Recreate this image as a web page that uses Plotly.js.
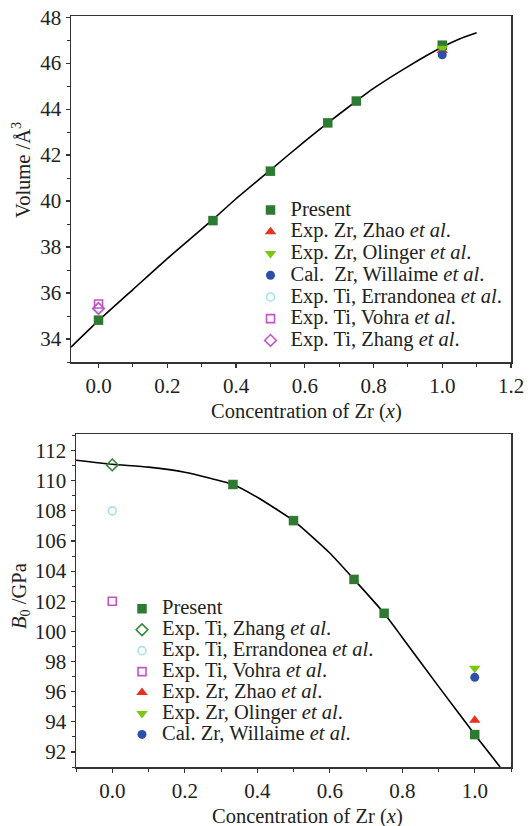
<!DOCTYPE html>
<html>
<head>
<meta charset="utf-8">
<script src="https://cdn.plot.ly/plotly-3.0.1.min.js"></script>
<style>html,body{margin:0;padding:0;background:#fff;}#chart{width:530px;height:826px;}</style>
</head>
<body>
<div id="chart"></div>
<script>
// ---------- Data: top panel (volume) ----------
var concPresent = [0, 0.333, 0.5, 0.667, 0.75, 1.0];
var volPresent = [34.82, 39.15, 41.3, 43.4, 44.35, 46.78];
var volFitX = [-0.08, 0, 0.1, 0.2, 0.333, 0.4, 0.5, 0.6, 0.667, 0.75, 0.8, 0.9, 1.0, 1.05, 1.1];
var volFitY = [33.65, 34.8, 36.15, 37.5, 39.2, 40.1, 41.35, 42.6, 43.4, 44.35, 44.9, 45.85, 46.7, 47.05, 47.32];
var volZhaoZr = [46.55];
var volOlingerZr = [46.65];
var volWillaimeZr = [46.36];
var volErrandoneaTi = [35.35];
var volVohraTi = [35.52];
var volZhangTi = [35.33];

// ---------- Data: bottom panel (bulk modulus) ----------
var concPresentB = [0.333, 0.5, 0.667, 0.75, 1.0];
var b0Present = [109.75, 107.35, 103.45, 101.2, 93.15];
var b0FitX = [-0.1, 0, 0.1, 0.2, 0.333, 0.4, 0.5, 0.6, 0.667, 0.75, 0.8, 0.9, 1.0, 1.07];
var b0FitY = [111.36, 111.09, 110.9, 110.56, 109.75, 108.9, 107.35, 105.2, 103.45, 101.2, 99.6, 96.35, 93.15, 91.0];
var b0ZhangTi = [111.05];
var b0ErrandoneaTi = [108.0];
var b0VohraTi = [102.0];
var b0ZhaoZr = [94.1];
var b0OlingerZr = [97.55];
var b0WillaimeZr = [96.95];

var xTi = [0];
var xZr = [1.0];

// ---------- Labels ----------
var namesTop = ['Present', 'Exp. Zr, Zhao <i>et al</i>.', 'Exp. Zr, Olinger <i>et al</i>.',
  'Cal.\u00a0 Zr, Willaime <i>et al</i>.', 'Exp. Ti, Errandonea <i>et al</i>.',
  'Exp. Ti, Vohra <i>et al</i>.', 'Exp. Ti, Zhang <i>et al</i>.'];
var namesBottom = ['Present', 'Exp. Ti, Zhang <i>et al</i>.', 'Exp. Ti, Errandonea <i>et al</i>.',
  'Exp. Ti, Vohra <i>et al</i>.', 'Exp. Zr, Zhao <i>et al</i>.', 'Exp. Zr, Olinger <i>et al</i>.',
  'Cal. Zr, Willaime <i>et al</i>.'];
var xTitle = 'Concentration of Zr (<i>x</i>)';
var yTitleTop = 'Volume /Å<sup>3</sup>';
var yTitleBottom = '<i>B</i><sub>0</sub> /GPa';
var topTicks = [0, 0.2, 0.4, 0.6, 0.8, 1.0, 1.2];
var bottomTicks = [0, 0.2, 0.4, 0.6, 0.8, 1.0];

// ---------- Styles ----------
var FONT = '"Liberation Serif", "DejaVu Serif", serif';
var C = {
  present: '#2f7a33', zhao: '#e8321f', olinger: '#7cc60c', willaime: '#2c4fa9',
  errandonea: '#a6e2ec', vohra: '#c253c9', zhangTop: '#c253c9', zhangBottom: '#2f8a32'
};
function lbl(t) { return '<span style="font-size:20.5px">' + t + '</span>'; }

function pts(x, y, name, color, symbol, size, xa, ya, leg, rank, open) {
  var m = {color: color, symbol: symbol, size: size};
  if (open) m.line = {color: color, width: 1.6};
  return {x: x, y: y, type: 'scatter', mode: 'markers', name: lbl(name), marker: m,
    xaxis: xa, yaxis: ya, legend: leg, legendrank: rank, cliponaxis: false};
}

var traces = [
  {x: volFitX, y: volFitY, type: 'scatter', mode: 'lines', line: {color: '#000', width: 1.6, shape: 'spline', smoothing: 0.5},
    showlegend: false, xaxis: 'x', yaxis: 'y', hoverinfo: 'skip'},
  pts(xTi, volErrandoneaTi, namesTop[4], C.errandonea, 'circle-open', 8, 'x', 'y', 'legend', 5, true),
  pts(xTi, volVohraTi, namesTop[5], C.vohra, 'square-open', 8, 'x', 'y', 'legend', 6, true),
  pts(xTi, volZhangTi, namesTop[6], C.zhangTop, 'diamond-open', 9, 'x', 'y', 'legend', 7, true),
  pts(concPresent, volPresent, namesTop[0], C.present, 'square', 9.5, 'x', 'y', 'legend', 1),
  pts(xZr, volZhaoZr, namesTop[1], C.zhao, 'triangle-up', 10, 'x', 'y', 'legend', 2),
  pts(xZr, volOlingerZr, namesTop[2], C.olinger, 'triangle-down', 10, 'x', 'y', 'legend', 3),
  pts(xZr, volWillaimeZr, namesTop[3], C.willaime, 'circle', 9, 'x', 'y', 'legend', 4),

  {x: b0FitX, y: b0FitY, type: 'scatter', mode: 'lines', line: {color: '#000', width: 1.6, shape: 'spline', smoothing: 0.5},
    showlegend: false, xaxis: 'x2', yaxis: 'y2', hoverinfo: 'skip'},
  pts(concPresentB, b0Present, namesBottom[0], C.present, 'square', 9.5, 'x2', 'y2', 'legend2', 1),
  pts(xTi, b0ZhangTi, namesBottom[1], C.zhangBottom, 'diamond-open', 9, 'x2', 'y2', 'legend2', 2, true),
  pts(xTi, b0ErrandoneaTi, namesBottom[2], C.errandonea, 'circle-open', 8, 'x2', 'y2', 'legend2', 3, true),
  pts(xTi, b0VohraTi, namesBottom[3], C.vohra, 'square-open', 8, 'x2', 'y2', 'legend2', 4, true),
  pts(xZr, b0ZhaoZr, namesBottom[4], C.zhao, 'triangle-up', 10, 'x2', 'y2', 'legend2', 5),
  pts(xZr, b0OlingerZr, namesBottom[5], C.olinger, 'triangle-down', 10, 'x2', 'y2', 'legend2', 6),
  pts(xZr, b0WillaimeZr, namesBottom[6], C.willaime, 'circle', 9, 'x2', 'y2', 'legend2', 7)
];

var W = 530, H = 826;
function axisBase() {
  return {
    showline: true, mirror: true, linecolor: '#333', linewidth: 1.5,
    ticks: 'outside', ticklen: 4, tickwidth: 1.2, tickcolor: '#333',
    showgrid: false, zeroline: false,
    tickfont: {family: FONT, size: 21, color: '#222'},
    minor: {ticks: 'outside', ticklen: 3, tickwidth: 1, tickcolor: '#333', showgrid: false}
  };
}
var xa1 = Object.assign(axisBase(), {domain: [71 / W, 511 / W], range: [-0.08, 1.2], anchor: 'y',
  tickvals: topTicks, tickformat: '.1f'});
xa1.minor.dtick = 0.1; xa1.minor.tick0 = 0;
var ya1 = Object.assign(axisBase(), {domain: [1 - 362 / H, 1 - 16 / H], range: [33, 48.05], anchor: 'x', dtick: 2, tick0: 0});
ya1.minor.dtick = 1; ya1.minor.tick0 = 0;
var xa2 = Object.assign(axisBase(), {domain: [76 / W, 511 / W], range: [-0.1, 1.1], anchor: 'y2',
  tickvals: bottomTicks, tickformat: '.1f'});
xa2.minor.dtick = 0.1; xa2.minor.tick0 = 0;
var ya2 = Object.assign(axisBase(), {domain: [1 - 767 / H, 1 - 434 / H], range: [91, 113.1], anchor: 'x2', dtick: 2, tick0: 0});
ya2.minor.dtick = 1; ya2.minor.tick0 = 0;

function titleAnn(text, px, py, angle) {
  return {text: text, xref: 'paper', yref: 'paper', x: px / W, y: 1 - py / H,
    xanchor: 'center', yanchor: 'middle', showarrow: false, textangle: angle || 0,
    font: {family: FONT, size: 20.5, color: '#222'}};
}

var layout = {
  width: W, height: H,
  margin: {l: 0, r: 0, t: 0, b: 0},
  paper_bgcolor: '#fff', plot_bgcolor: '#fff',
  font: {family: FONT, color: '#222'},
  xaxis: xa1, yaxis: ya1, xaxis2: xa2, yaxis2: ya2,
  legend: {x: 250.5 / W, y: 1 - 194.2 / H, xanchor: 'left', yanchor: 'top', xref: 'paper', yref: 'paper',
    bgcolor: 'rgba(0,0,0,0)', font: {family: FONT, size: 14.4, color: '#222'}, tracegroupgap: 0, itemwidth: 30},
  legend2: {x: 122 / W, y: 1 - 593.3 / H, xanchor: 'left', yanchor: 'top', xref: 'paper', yref: 'paper',
    bgcolor: 'rgba(0,0,0,0)', font: {family: FONT, size: 13.8, color: '#222'}, tracegroupgap: 0, itemwidth: 30},
  annotations: [
    titleAnn(xTitle, 306, 411),
    titleAnn(yTitleTop, 21, 170, -90),
    titleAnn(xTitle, 307.5, 816),
    titleAnn(yTitleBottom, 20, 596, -90)
  ],
  showlegend: true
};

Plotly.newPlot('chart', traces, layout, {staticPlot: true, displayModeBar: false});
</script>
</body>
</html>
